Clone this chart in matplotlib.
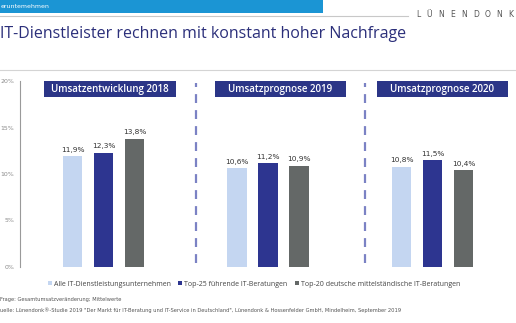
import matplotlib.pyplot as plt
import matplotlib.patches as patches
from matplotlib.lines import Line2D

# data
groups = ["Umsatzentwicklung 2018", "Umsatzprognose 2019", "Umsatzprognose 2020"]
series = ["Alle IT-Dienstleistungsunternehmen", "Top-25 führende IT-Beratungen",
          "Top-20 deutsche mittelständische IT-Beratungen"]
alle = [11.9, 10.6, 10.8]
top25 = [12.3, 11.2, 11.5]
top20 = [13.8, 10.9, 10.4]
yticks = [0, 5, 10, 15, 20]

colors = ["#c4d6f1", "#2d3590", "#646867"]
navy = "#2b3587"
title_col = "#2b2f7a"

W, H = 516, 323
fig = plt.figure(figsize=(W / 100, H / 100), dpi=100)

# top banner
fig.patches.append(patches.Rectangle((0, 1 - 13 / H), 323 / W, 13 / H, transform=fig.transFigure,
                                     facecolor="#1b95d4", edgecolor="none"))
fig.text(1 / W, 1 - 6.5 / H, "eruntemehmen", color="white", fontsize=4.5, va="center", ha="left")
fig.add_artist(Line2D([0, 408 / W], [1 - 16 / H, 1 - 16 / H], color="#c8c8c8", lw=0.8))
# spaced-out logo lettering
for i, ch in enumerate("LÜNENDONK"):
    fig.text((418 + i * 11.6) / W, 1 - 14.5 / H, ch, color="#555555", fontsize=5.5,
             va="center", ha="center")

fig.text(0 / W, 1 - 34 / H, "IT-Dienstleister rechnen mit konstant hoher Nachfrage",
         color=title_col, fontsize=11.5, va="center", ha="left", fontfamily="Open Sans")
fig.add_artist(Line2D([0, 1], [1 - 70 / H, 1 - 70 / H], color="#d4d4d4", lw=0.8))

# main axes
ax = fig.add_axes([20 / W, 56 / H, 496 / W, 186 / H])
ax.set_xlim(-0.5076, 2.507)
ax.set_ylim(0, 20)
for s in ["top", "right", "bottom"]:
    ax.spines[s].set_visible(False)
ax.spines["left"].set_color("#9a9a9a")
ax.spines["left"].set_linewidth(0.8)
ax.set_xticks([])
ax.set_yticks(yticks)
ax.set_yticklabels([f"{t}%" for t in yticks], fontsize=4.5, color="#8a8a8a")
ax.tick_params(axis="y", length=0, pad=4)

off = 31 / 164.5
bw = 19.5 / 164.5
for k, vals in enumerate([alle, top25, top20]):
    xs = [g + (k - 1) * off for g in range(3)]
    ax.bar(xs, vals, width=bw, color=colors[k])
    for x, v in zip(xs, vals):
        ax.text(x, v + 0.35, f"{v:.1f}%".replace(".", ","), ha="center", va="bottom",
                fontsize=5.3, color="#333333")

# dashed separators
for xd in [0.562, 1.589]:
    ax.plot([xd, xd], [0.4, 19.8], color="#7b82c4", lw=1.6, ls=(0, (4, 3.2)), solid_capstyle="butt")

# group headers
box_c = [0.04, 1.076, 2.06]
for c, g in zip(box_c, groups):
    ax.add_patch(patches.Rectangle((c - 0.40, 18.25), 0.80, 1.75, facecolor=navy, edgecolor="none",
                                   clip_on=False))
    ax.text(c, 19.12, g, ha="center", va="center", color="white", fontsize=7,
            fontfamily="Open Sans", fontweight="semibold")

# legend
handles = [patches.Patch(facecolor=c, edgecolor="none") for c in colors]
fig.legend(handles, series, loc="center", bbox_to_anchor=(254 / W, 1 - 284 / H), ncol=3, frameon=False,
           prop={"family": "Open Sans", "size": 5.0}, handlelength=0.6, handleheight=0.6,
           handletextpad=0.3, columnspacing=1.0, labelcolor="#444444")

fig.text(0, 1 - 299 / H, "Frage: Gesamtumsatzveränderung; Mittelwerte", fontsize=3.7, color="#555555",
         va="center", ha="left")
fig.text(0, 1 - 310 / H,
         "uelle: Lünendonk®-Studie 2019 \"Der Markt für IT-Beratung und IT-Service in Deutschland\", "
         "Lünendonk & Hossenfelder GmbH, Mindelheim, September 2019",
         fontsize=3.7, color="#555555", va="center", ha="left")

fig.savefig("out.png", dpi=100)
